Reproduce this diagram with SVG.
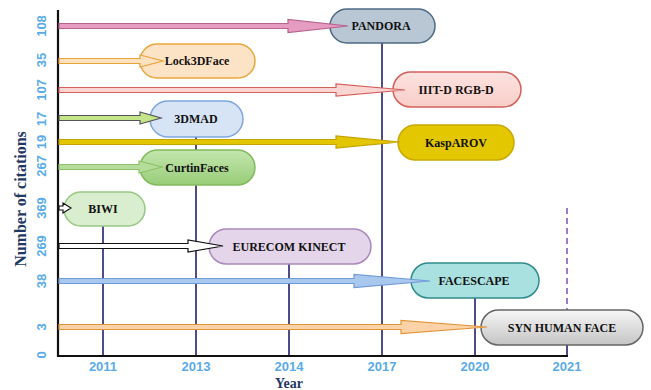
<svg xmlns="http://www.w3.org/2000/svg" width="651" height="390" viewBox="0 0 651 390">
<defs>
<linearGradient id="gCurtin" x1="0" y1="0" x2="0" y2="1"><stop offset="0" stop-color="#c4e6ae"/><stop offset="1" stop-color="#98cd78"/></linearGradient>
<linearGradient id="gSyn" x1="0" y1="0" x2="0" y2="1"><stop offset="0" stop-color="#f7f7f7"/><stop offset="1" stop-color="#c4c4c4"/></linearGradient>
<linearGradient id="gIIIT" x1="0" y1="0" x2="0" y2="1"><stop offset="0" stop-color="#fde3e0"/><stop offset="1" stop-color="#f8cdc8"/></linearGradient>
</defs>
<style>
.box{stroke-width:1.5}
.lbl{font-family:"Liberation Serif","Times New Roman",serif;font-weight:bold;font-size:12px;fill:#111;text-anchor:middle}
.tick{font-family:"Liberation Sans",Arial,sans-serif;font-weight:bold;font-size:13px;fill:#5aabe8;text-anchor:middle}
.title{font-family:"Liberation Serif","Times New Roman",serif;font-weight:bold;font-size:16px;fill:#1f3864;text-anchor:middle}
.vl{stroke:#4f4c8c;stroke-width:2;fill:none}
.arr{stroke-width:1.2;stroke-linejoin:miter}
</style>
<rect width="651" height="390" fill="#ffffff"/>

<g id="year-lines">
<line class="vl" x1="103" y1="226" x2="103" y2="356"/>
<line class="vl" x1="196" y1="137" x2="196" y2="356"/>
<line class="vl" x1="289" y1="264" x2="289" y2="356"/>
<line class="vl" x1="382" y1="43" x2="382" y2="356"/>
<line class="vl" x1="475" y1="298" x2="475" y2="356"/>
<line x1="567" y1="208" x2="567" y2="312" stroke="#9b7cc6" stroke-width="2" stroke-dasharray="6,4"/>
<line class="vl" x1="567" y1="344" x2="567" y2="356"/>
</g>

<g id="axes">
<line x1="58" y1="10" x2="58" y2="357" stroke="#111" stroke-width="2.2"/>
<line x1="57" y1="356" x2="568" y2="356" stroke="#111" stroke-width="2.2"/>
<g class="tick">
<text transform="translate(46,26) rotate(-90)">108</text>
<text transform="translate(46,60) rotate(-90)">35</text>
<text transform="translate(46,90) rotate(-90)">107</text>
<text transform="translate(46,119) rotate(-90)">17</text>
<text transform="translate(46,142) rotate(-90)">19</text>
<text transform="translate(46,166) rotate(-90)">267</text>
<text transform="translate(46,208) rotate(-90)">369</text>
<text transform="translate(46,246) rotate(-90)">269</text>
<text transform="translate(46,281) rotate(-90)">38</text>
<text transform="translate(46,327) rotate(-90)">3</text>
<text transform="translate(46,355) rotate(-90)">0</text>
<text x="103" y="371">2011</text>
<text x="196" y="371">2013</text>
<text x="289" y="371">2014</text>
<text x="382" y="371">2017</text>
<text x="475" y="371">2020</text>
<text x="567" y="371">2021</text>
</g>
<text class="title" x="289" y="388" style="font-size:14px">Year</text>
<text class="title" transform="translate(26,199) rotate(-90)">Number of citations</text>
</g>

<g id="node-pandora">
<rect class="box" x="330" y="9" width="105" height="34" rx="17" fill="#b8c7d3" stroke="#4f6b85"/>
<text class="lbl" x="381" y="30">PANDORA</text>
</g>
<g id="node-lock3dface">
<rect class="box" x="140" y="44" width="115" height="34" rx="17" fill="#fde3c5" stroke="#e7a83e"/>
<text class="lbl" x="197" y="65">Lock3DFace</text>
</g>
<g id="node-iiitd">
<rect class="box" x="393" y="72" width="128" height="35" rx="17.5" fill="url(#gIIIT)" stroke="#d4605b"/>
<text class="lbl" x="456" y="94">IIIT-D RGB-D</text>
</g>
<g id="node-3dmad">
<rect class="box" x="150" y="101" width="93" height="36" rx="18" fill="#d6e4f6" stroke="#7fa6dc"/>
<text class="lbl" x="196" y="123">3DMAD</text>
</g>
<g id="node-kasparov">
<rect class="box" x="398" y="125" width="116" height="35" rx="17.5" fill="#e3c700" stroke="#c9aa00"/>
<text class="lbl" x="456" y="147">KaspAROV</text>
</g>
<g id="node-curtinfaces">
<rect class="box" x="140" y="150" width="115" height="35" rx="17.5" fill="url(#gCurtin)" stroke="#82bb5e"/>
<text class="lbl" x="197" y="172">CurtinFaces</text>
</g>
<g id="node-biwi">
<rect class="box" x="64" y="192" width="81" height="34" rx="17" fill="#d9edcf" stroke="#98c884"/>
<text class="lbl" x="103" y="213">BIWI</text>
</g>
<g id="node-eurecom">
<rect class="box" x="209" y="229" width="162" height="35" rx="17.5" fill="#e4d5ea" stroke="#a98bbb"/>
<text class="lbl" x="289" y="251">EURECOM KINECT</text>
</g>
<g id="node-facescape">
<rect class="box" x="411" y="263" width="128" height="35" rx="17.5" fill="#a9e0e0" stroke="#2f8c8c"/>
<text class="lbl" x="474" y="285">FACESCAPE</text>
</g>
<g id="node-synhuman">
<rect class="box" x="481" y="310" width="162" height="35" rx="17.5" fill="url(#gSyn)" stroke="#666666"/>
<text class="lbl" x="562" y="332">SYN HUMAN FACE</text>
</g>

<g id="connectors">
<polygon class="arr" fill="#e59cc0" stroke="#b8628e" points="59,23.5 288,23.5 288,19.5 348,26 288,32.5 288,28.5 59,28.5"/>
<polygon class="arr" fill="#fde2c0" stroke="#e8a23c" points="59,58.5 140,58.5 140,55 163,61 140,67 140,63.5 59,63.5"/>
<polygon class="arr" fill="#fbd5d2" stroke="#d45f5a" points="59,87.5 336,87.5 336,84 405,90 336,96 336,92.5 59,92.5"/>
<polygon class="arr" fill="#c5e58a" stroke="#555555" points="59,115.5 140,115.5 140,112 161,118 140,124 140,120.5 59,120.5"/>
<polygon class="arr" fill="#e3c500" stroke="#c4a200" points="59,139.5 336,139.5 336,136 400,142 336,148 336,144.5 59,144.5"/>
<polygon class="arr" fill="#b5dc9a" stroke="#8dc26a" points="59,164.5 139,164.5 139,161 162,167 139,173 139,169.5 59,169.5"/>
<polygon class="arr" fill="#ffffff" stroke="#111111" points="59,206 63,206 63,203 71,208 63,213 63,210 59,210"/>
<polygon class="arr" fill="#ffffff" stroke="#111111" points="59,243.5 188,243.5 188,240 223,246 188,252 188,248.5 59,248.5"/>
<polygon class="arr" fill="#a9c8ee" stroke="#6f9bd6" points="59,278.5 354,278.5 354,274.5 430,281 354,287.5 354,283.5 59,283.5"/>
<polygon class="arr" fill="#fcd2a8" stroke="#e0953a" points="59,324.5 401,324.5 401,320.5 487,327 401,333.5 401,329.5 59,329.5"/>
</g>
</svg>
